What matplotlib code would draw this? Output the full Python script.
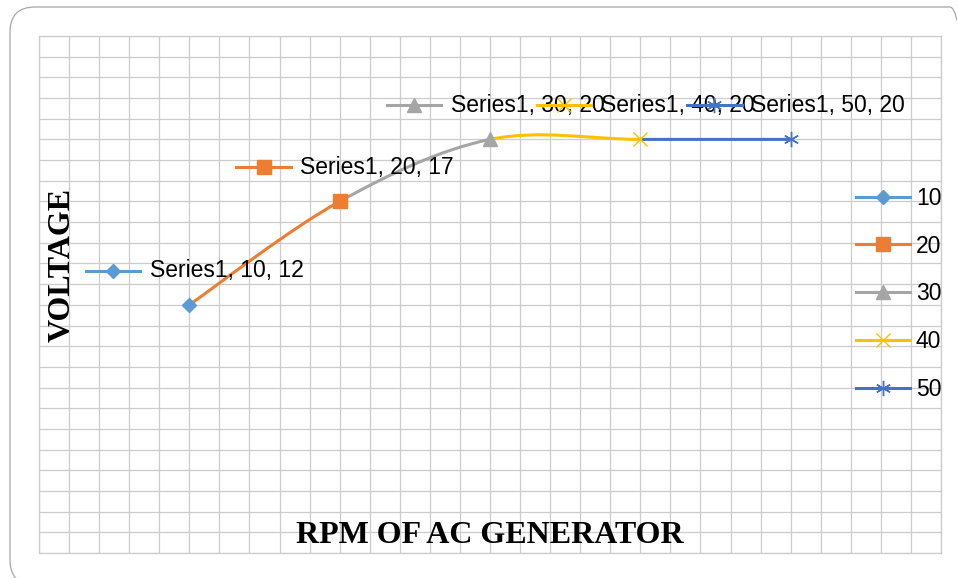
import matplotlib
matplotlib.use('Agg')
import matplotlib.pyplot as plt
from matplotlib.path import Path
from matplotlib.patches import PathPatch, FancyBboxPatch
from matplotlib.lines import Line2D
from matplotlib.offsetbox import DrawingArea, TextArea, HPacker, AnnotationBbox

# data
rpm = [10, 20, 30, 40, 50]
voltage = [12, 17, 20, 20, 20]
series_name = 'Series1'
point_colors = ['#5B9BD5', '#ED7D31', '#A5A5A5', '#FFC000', '#4472C4']
point_markers = ['D', 's', '^', 'x', (6, 2, 0)]
marker_sizes = [7.5, 10, 10, 10, 11]

LABEL_FONT = 'Liberation Sans'
TITLE_FONT = 'Liberation Serif'
GRID = '#cccccc'
LW = 2.2

fig = plt.figure(figsize=(9.57, 5.78), dpi=100)
ax = fig.add_axes([39 / 957, 1 - 553 / 578, (941 - 39) / 957, (553 - 36) / 578])

# outer rounded chart border (partly runs off the canvas, as in the original)
fig.patches.append(FancyBboxPatch((0.10, -0.07), 9.65, 5.78,
                                  boxstyle='round,pad=0,rounding_size=0.25',
                                  transform=fig.dpi_scale_trans, fill=False,
                                  edgecolor='#a6a6a6', linewidth=0.9, zorder=-1))

ax.set_xlim(0, 60)
ax.set_ylim(0, 25)
ax.set_xticks(range(0, 61, 2))
ax.set_yticks(range(0, 26, 1))
ax.grid(True, color=GRID, linewidth=0.9)
ax.tick_params(length=0, labelbottom=False, labelleft=False)
for sp in ax.spines.values():
    sp.set_edgecolor(GRID)
    sp.set_linewidth(0.9)
ax.set_axisbelow(True)

# smoothed line (Excel-style Bezier), one colour per segment
pts = list(zip(rpm, voltage))
n = len(pts)
for i in range(n - 1):
    p0 = pts[max(i - 1, 0)]
    p1 = pts[i]
    p2 = pts[i + 1]
    p3 = pts[min(i + 2, n - 1)]
    c1 = (p1[0] + (p2[0] - p0[0]) / 6, p1[1] + (p2[1] - p0[1]) / 6)
    c2 = (p2[0] - (p3[0] - p1[0]) / 6, p2[1] - (p3[1] - p1[1]) / 6)
    path = Path([p1, c1, c2, p2], [Path.MOVETO, Path.CURVE4, Path.CURVE4, Path.CURVE4])
    ax.add_patch(PathPatch(path, fill=False, edgecolor=point_colors[i + 1],
                           linewidth=LW, capstyle='round', zorder=3))

for x, y, c, m, ms in zip(rpm, voltage, point_colors, point_markers, marker_sizes):
    ax.plot([x], [y], linestyle='none', marker=m, markersize=ms, color=c,
            markeredgecolor=c, markeredgewidth=1.0, zorder=4)

# data labels with legend keys
for x, y, c, m, ms in zip(rpm, voltage, point_colors, point_markers, marker_sizes):
    da = DrawingArea(39, 14, 0, 0)
    da.add_artist(Line2D([0, 39], [7, 7], color=c, linewidth=LW))
    da.add_artist(Line2D([19.5], [7], marker=m, markersize=ms, color=c,
                         markeredgecolor=c, markeredgewidth=1.0))
    ta = TextArea(f'{series_name}, {x}, {y}',
                  textprops=dict(family=LABEL_FONT, fontsize=16.5, color='#000000'))
    box = HPacker(children=[da, ta], align='center', pad=0, sep=7)
    ab = AnnotationBbox(box, (x, y), xybox=(4, 24.5), xycoords='data',
                        boxcoords='offset points', frameon=False,
                        box_alignment=(0.5, 0.5), pad=0, zorder=5)
    ax.add_artist(ab)

# legend
handles = [Line2D([], [], color=c, marker=m, markersize=ms, linewidth=LW,
                  markeredgecolor=c, markeredgewidth=1.0)
           for c, m, ms in zip(point_colors, point_markers, marker_sizes)]
fig.legend(handles, [str(v) for v in rpm], loc='center left',
           bbox_to_anchor=(856 / 957, 1 - 294 / 578), bbox_transform=fig.transFigure,
           frameon=False, borderpad=0, borderaxespad=0, handlelength=2.36,
           handletextpad=0.25, labelspacing=1.09,
           prop=dict(family=LABEL_FONT, size=16.5))

# axis titles
fig.text(490 / 957, 1 - 543 / 578, 'RPM OF AC GENERATOR', ha='center', va='baseline',
         family=TITLE_FONT, fontweight='bold', fontsize=23)
fig.text(62.5 / 957, 1 - 265 / 578, 'VOLTAGE', ha='center', va='center', rotation=90,
         family=TITLE_FONT, fontweight='bold', fontsize=23)

fig.savefig('out.png', dpi=100)
